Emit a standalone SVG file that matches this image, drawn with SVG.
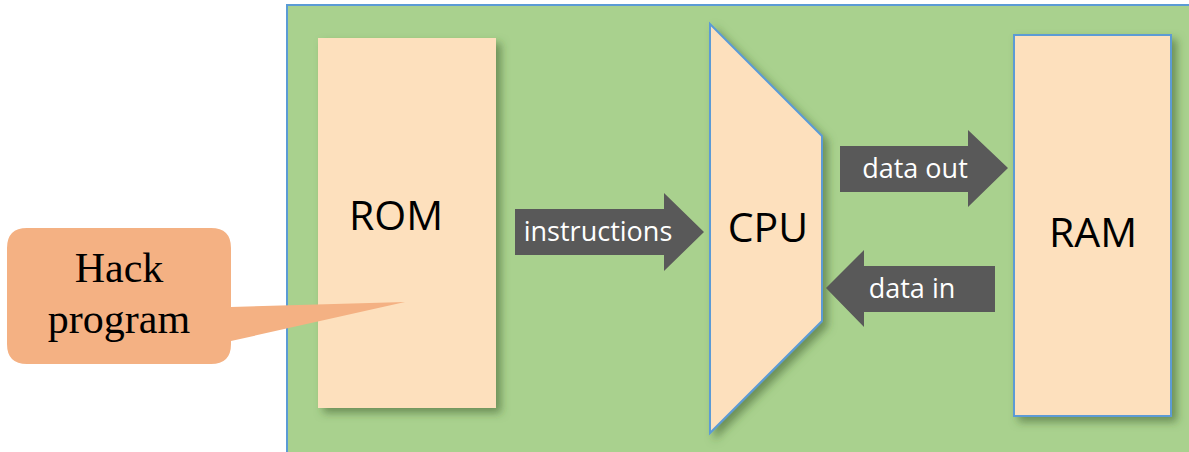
<svg xmlns="http://www.w3.org/2000/svg" width="1189" height="452" viewBox="0 0 1189 452">
<style>
.box{fill:#FDE0BD}
.blue{stroke:#5B9BD5;stroke-width:2}
.big{font-family:"Open Sans","Liberation Sans",sans-serif;font-size:41px;fill:#000;text-anchor:middle}
.lbl{font-family:"Open Sans","Liberation Sans",sans-serif;font-size:27px;fill:#fff;text-anchor:middle}
.arrow{fill:#595959}
.serif{font-family:"Liberation Serif","Times New Roman",serif;font-size:42px;fill:#000;text-anchor:middle}
</style>
<defs>
<filter id="sh" x="-20%" y="-20%" width="150%" height="150%">
<feGaussianBlur in="SourceAlpha" stdDeviation="4"/>
<feOffset dx="5" dy="5" result="b"/>
<feFlood flood-color="#3A5A2A" flood-opacity="0.55"/>
<feComposite in2="b" operator="in"/>
<feMerge><feMergeNode/><feMergeNode in="SourceGraphic"/></feMerge>
</filter>
</defs>
<rect x="0" y="0" width="1189" height="452" fill="#fff"/>
<g id="board">
<rect x="287" y="5" width="920" height="460" fill="#A9D18E" class="blue"/>
</g>
<g id="rom">
<rect x="318" y="38" width="178" height="370" class="box" filter="url(#sh)"/>
<text x="396" y="230" class="big">ROM</text>
</g>
<g id="cpu">
<polygon points="710,24 822,136 822,321 710,433" class="box blue" stroke-linejoin="miter" filter="url(#sh)"/>
<text x="768" y="242" class="big">CPU</text>
</g>
<g id="ram">
<rect x="1014" y="35" width="157" height="381" class="box blue" filter="url(#sh)"/>
<text x="1093" y="247" class="big">RAM</text>
</g>
<g id="connectors">
<g id="instructions">
<polygon points="515,209 664,209 664,193 704,232 664,271 664,255 515,255" class="arrow"/>
<text x="598" y="241" class="lbl">instructions</text>
</g>
<g id="data-out">
<polygon points="840,146 968,146 968,130 1008,168 968,207 968,192 840,192" class="arrow"/>
<text x="915" y="178" class="lbl">data out</text>
</g>
<g id="data-in">
<polygon points="995,266 864,266 864,250 826,288 864,327 864,312 995,312" class="arrow"/>
<text x="912" y="298" class="lbl">data in</text>
</g>
</g>
<g id="hack">
<path d="M27,228 H211 Q231,228 231,248 V307 L405,302 L231,341 V344 Q231,364 211,364 H27 Q7,364 7,344 V248 Q7,228 27,228 Z" fill="#F4B183"/>
<text x="119" y="282" class="serif">Hack</text>
<text x="119" y="333" class="serif">program</text>
</g>
</svg>
